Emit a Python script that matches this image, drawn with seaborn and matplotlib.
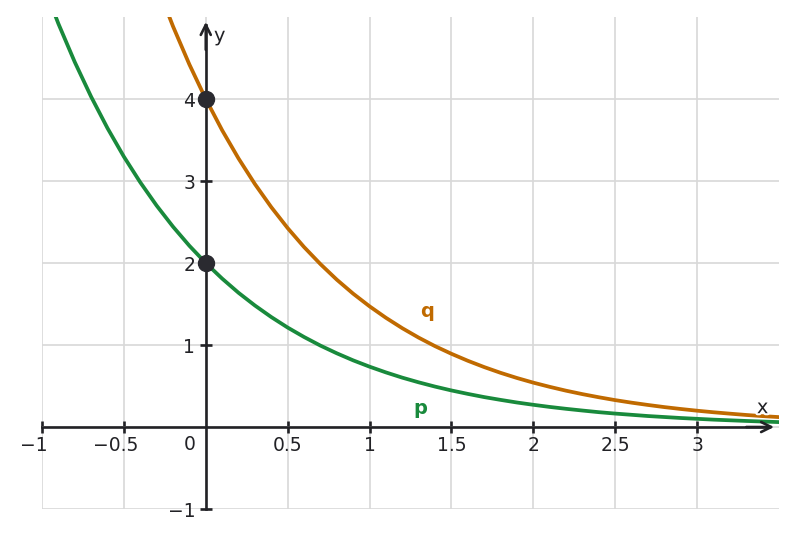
import numpy as np
import pandas as pd
import matplotlib
matplotlib.use("Agg")
import matplotlib.pyplot as plt
import matplotlib.patheffects as pe
import matplotlib.transforms as mtransforms
import seaborn as sns

# values
x_p = np.round(np.arange(-1.0, 3.51, 0.1), 1)
p_vals = [5.437, 4.919, 4.451, 4.028, 3.644, 3.297, 2.984, 2.700, 2.443, 2.210,
          2.000, 1.810, 1.637, 1.482, 1.341, 1.213, 1.098, 0.993, 0.899, 0.813,
          0.736, 0.666, 0.602, 0.545, 0.493, 0.446, 0.404, 0.365, 0.331, 0.299,
          0.271, 0.245, 0.222, 0.201, 0.181, 0.164, 0.149, 0.134, 0.122, 0.110,
          0.100, 0.090, 0.082, 0.074, 0.067, 0.060]
x_q = np.round(np.arange(-0.3, 3.51, 0.1), 1)
q_vals = [5.400, 4.886, 4.421, 4.000, 3.619, 3.275, 2.963, 2.681, 2.426, 2.195,
          1.987, 1.797, 1.626, 1.472, 1.332, 1.205, 1.090, 0.986, 0.893, 0.808,
          0.731, 0.661, 0.598, 0.541, 0.490, 0.443, 0.401, 0.363, 0.328, 0.297,
          0.269, 0.243, 0.220, 0.199, 0.180, 0.163, 0.147, 0.133, 0.121]
pts_x = [0, 0]
pts_y = [4, 2]
x_ticks = [-1, -0.5, 0, 0.5, 1, 1.5, 2, 2.5, 3]
x_labels = ["\u22121", "\u22120.5", "", "0.5", "1", "1.5", "2", "2.5", "3"]
y_ticks = [-1, 0, 1, 2, 3, 4]
y_labels = ["\u22121", "", "1", "2", "3", "4"]

p_col = "#198a3c"
q_col = "#c06a00"
dark = "#222226"
fs = 13.5

sns.set_style("whitegrid", {"grid.color": "#d8d8d8"})
plt.rcParams['font.family'] = ['DejaVu Sans']

fig = plt.figure(figsize=(7.97, 5.37), dpi=100)
ax = fig.add_axes([0.0527, 0.0521, 0.9247, 0.9162])

df_p = pd.DataFrame({"x": x_p, "y": p_vals})
df_q = pd.DataFrame({"x": x_q, "y": q_vals})
sns.lineplot(data=df_p, x="x", y="y", color=p_col, linewidth=2.7, ax=ax, zorder=3)
sns.lineplot(data=df_q, x="x", y="y", color=q_col, linewidth=2.7, ax=ax, zorder=3)
for ln in ax.get_lines():
    ln.set_solid_joinstyle("round")
ax.plot(pts_x, pts_y, "o", color="#2a2a30", markersize=11.5, zorder=5)

ax.set_xlim(-1, 3.5)
ax.set_ylim(-1, 5)
ax.set_xlabel("")
ax.set_ylabel("")

ax.set_xticks(x_ticks)
ax.set_xticklabels(x_labels)
ax.set_yticks(y_ticks)
ax.set_yticklabels(y_labels)
ax.grid(True, color="#d8d8d8", linewidth=1.2)

for s in ["top", "right"]:
    ax.spines[s].set_visible(False)
ax.spines["bottom"].set_position(("data", 0))
ax.spines["left"].set_position(("data", 0))
ax.spines["bottom"].set_bounds(-1, 3.44)
ax.spines["left"].set_bounds(-1, 4.9)
for s in ["bottom", "left"]:
    ax.spines[s].set_color(dark)
    ax.spines[s].set_linewidth(1.9)
    ax.spines[s].set_zorder(4)

ax.tick_params(axis="both", direction="inout", length=9, width=1.9,
               color=dark, labelcolor=dark, labelsize=fs,
               bottom=True, left=True)
ax.tick_params(axis="x", pad=2)
ax.tick_params(axis="y", pad=3)
ax.xaxis.get_major_ticks()[2].tick1line.set_visible(False)
ax.yaxis.get_major_ticks()[1].tick1line.set_visible(False)

# negative x labels: digits centred on the tick, minus hangs left
shift = mtransforms.ScaledTranslation(-8 / 100, 0, fig.dpi_scale_trans)
for lab in ax.get_xticklabels():
    if lab.get_text().startswith("\u2212"):
        lab.set_transform(lab.get_transform() + shift)

# "0" sits left of the y-axis
ax.annotate("0", xy=(0, 0), xytext=(-7, -6), textcoords="offset points",
            ha="right", va="top", fontsize=fs, color=dark)

# arrow heads
ax.annotate("", xy=(3.47, 0), xytext=(3.3, 0),
            arrowprops=dict(arrowstyle="->", color=dark, lw=1.9,
                            mutation_scale=18, shrinkA=0, shrinkB=0), zorder=6)
ax.annotate("", xy=(0, 4.94), xytext=(0, 4.6),
            arrowprops=dict(arrowstyle="->", color=dark, lw=1.9,
                            mutation_scale=18, shrinkA=0, shrinkB=0), zorder=6)

stroke = [pe.withStroke(linewidth=3, foreground="white")]
ax.text(3.40, 0.12, "x", fontsize=14, color=dark, ha="center", va="bottom",
        path_effects=stroke, zorder=7)
ax.text(0.05, 4.77, "y", fontsize=14, color=dark, ha="left", va="center",
        path_effects=stroke, zorder=7)
ax.text(1.35, 1.41, "q", fontsize=14, color=q_col, fontweight="bold",
        ha="center", va="center", zorder=7)
ax.text(1.31, 0.22, "p", fontsize=14, color=p_col, fontweight="bold",
        ha="center", va="center", zorder=7)

fig.savefig("out.png", dpi=100)
